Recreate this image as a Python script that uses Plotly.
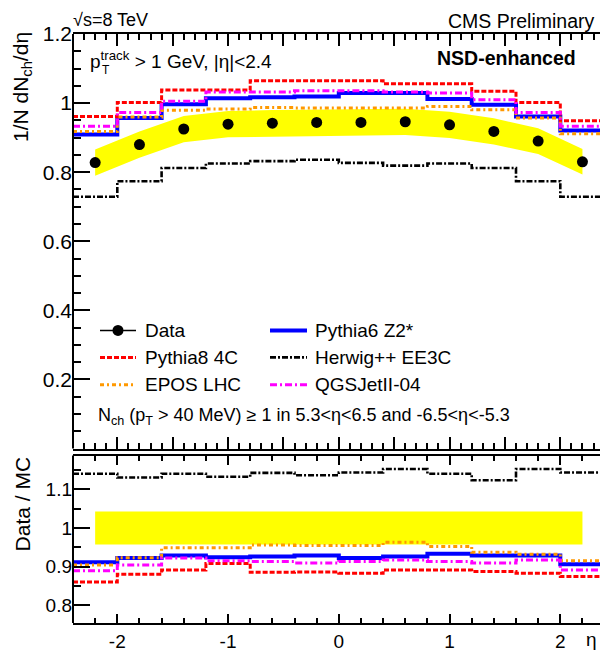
import plotly.graph_objects as go

# ---------------- data ----------------
bin_edges = [-2.4, -2.0, -1.6, -1.2, -0.8, -0.4, 0.0, 0.4, 0.8, 1.2, 1.6, 2.0, 2.4]
eta_centers = [-2.2, -1.8, -1.4, -1.0, -0.6, -0.2, 0.2, 0.6, 1.0, 1.4, 1.8, 2.2]

data_vals = [0.828, 0.880, 0.925, 0.939, 0.942, 0.944, 0.944, 0.946, 0.937, 0.918, 0.890, 0.830]
data_err = [0.038, 0.038, 0.038, 0.038, 0.038, 0.038, 0.038, 0.038, 0.038, 0.038, 0.037, 0.037]

pythia6_z2 = [0.909, 0.957, 0.997, 1.014, 1.017, 1.019, 1.029, 1.029, 1.012, 0.995, 0.961, 0.921]
herwig_ee3c = [0.729, 0.774, 0.812, 0.825, 0.832, 0.836, 0.827, 0.819, 0.825, 0.812, 0.774, 0.729]
pythia8_4c = [0.961, 1.002, 1.038, 1.038, 1.065, 1.065, 1.065, 1.056, 1.056, 1.034, 1.002, 0.949]
epos_lhc = [0.918, 0.960, 0.979, 0.983, 0.987, 0.986, 0.986, 0.986, 0.990, 0.981, 0.957, 0.911]
qgsjet_04 = [0.933, 0.973, 1.005, 1.032, 1.032, 1.036, 1.036, 1.032, 1.029, 1.010, 0.973, 0.933]

ratio_pythia6_z2 = [0.911, 0.922, 0.929, 0.924, 0.926, 0.929, 0.922, 0.926, 0.933, 0.929, 0.929, 0.906]
ratio_herwig_ee3c = [1.141, 1.131, 1.141, 1.133, 1.143, 1.137, 1.144, 1.153, 1.141, 1.124, 1.153, 1.144]
ratio_pythia8_4c = [0.860, 0.880, 0.891, 0.908, 0.885, 0.886, 0.883, 0.891, 0.891, 0.887, 0.883, 0.874]
ratio_epos_lhc = [0.904, 0.923, 0.949, 0.949, 0.956, 0.955, 0.955, 0.963, 0.952, 0.937, 0.932, 0.915]
ratio_qgsjet_04 = [0.889, 0.904, 0.922, 0.915, 0.913, 0.909, 0.913, 0.917, 0.913, 0.909, 0.917, 0.891]
ratio_err = [0.043, 0.043, 0.043, 0.043, 0.043, 0.043, 0.043, 0.043, 0.043, 0.043, 0.043, 0.043]

y_ticks_top = [0.2, 0.4, 0.6, 0.8, 1.0, 1.2]
y_ticklabels_top = ["0.2", "0.4", "0.6", "0.8", "1", "1.2"]
y_ticks_ratio = [0.8, 0.9, 1.0, 1.1]
y_ticklabels_ratio = ["0.8", "0.9", "1", "1.1"]
x_ticks = [-2, -1, 0, 1, 2]
x_ticklabels = ["-2", "-1", "0", "1", "2"]
x_ticks_top = [-2.0, -1.5, -1.0, -0.5, 0.0, 0.5, 1.0, 1.5, 2.0]

# ---------------- styling ----------------
FONT = "Liberation Sans, Arial, Helvetica, sans-serif"
W, H = 600, 652
ML, MR, MT, MB = 73, 0, 34, 27
PW, PH = W - ML - MR, H - MT - MB


def PX(px):
    return (px - ML) / PW


def PY(py):
    return (H - MB - py) / PH


models = [
    ("Pythia6 Z2*", pythia6_z2, ratio_pythia6_z2, "#0000ff", 4, "solid"),
    ("Herwig++ EE3C", herwig_ee3c, ratio_herwig_ee3c, "#000000", 2.6, "6px,2px,2px,2px"),
    ("Pythia8 4C", pythia8_4c, ratio_pythia8_4c, "#ff0000", 3, "5px,2px"),
    ("EPOS LHC", epos_lhc, ratio_epos_lhc, "#ff9900", 3, "4px,3px,2px,3px"),
    ("QGSJetII-04", qgsjet_04, ratio_qgsjet_04, "#ff00ff", 3, "7px,3px,2px,3px"),
]

fig = go.Figure()

# data uncertainty band (top)
fig.add_trace(go.Scatter(
    x=eta_centers + eta_centers[::-1],
    y=[v + e for v, e in zip(data_vals, data_err)] + [v - e for v, e in zip(data_vals, data_err)][::-1],
    fill="toself", fillcolor="#ffff00", line=dict(width=0), mode="lines",
    xaxis="x2", yaxis="y2", showlegend=False, hoverinfo="skip"))

# ratio band (bottom)
fig.add_trace(go.Scatter(
    x=eta_centers + eta_centers[::-1],
    y=[1 + e for e in ratio_err] + [1 - e for e in ratio_err][::-1],
    fill="toself", fillcolor="#ffff00", line=dict(width=0), mode="lines",
    xaxis="x", yaxis="y", showlegend=False, hoverinfo="skip"))

for name, vals, rvals, col, lw, dash in models:
    fig.add_trace(go.Scatter(
        x=bin_edges, y=vals + [vals[-1]], mode="lines", line_shape="hv",
        line=dict(color=col, width=lw, dash=dash), name=name,
        xaxis="x2", yaxis="y2", showlegend=False))
    fig.add_trace(go.Scatter(
        x=bin_edges, y=rvals + [rvals[-1]], mode="lines", line_shape="hv",
        line=dict(color=col, width=lw, dash=dash), name=name,
        xaxis="x", yaxis="y", showlegend=False))

fig.add_trace(go.Scatter(
    x=eta_centers, y=data_vals, mode="markers", name="Data",
    marker=dict(color="black", size=11), xaxis="x2", yaxis="y2", showlegend=False))

XR = [-2.4, -2.4 + PW / 110.75]
top_dom = [PY(450), 1.0]
bot_dom = [0.0, PY(457)]
YR_TOP = [0, 1.2]
YR_BOT = [0.7536, 1.188]

base = dict(showgrid=False, zeroline=False, ticks="inside", tickcolor="black",
            tickwidth=1.5, linecolor="black", linewidth=2)


def minor(dt, ln):
    return dict(dtick=dt, tick0=0, ticklen=ln, ticks="inside", tickwidth=1.5, tickcolor="black")


fig.update_layout(
    width=W, height=H, margin=dict(l=ML, r=MR, t=MT, b=MB),
    paper_bgcolor="white", plot_bgcolor="white", showlegend=False,
    font=dict(family=FONT, color="black"),
    xaxis=dict(domain=[0, 1], anchor="y", range=XR, tickmode="array", tickvals=x_ticks,
               ticktext=x_ticklabels, ticklen=9, showline=True, mirror="allticks",
               tickfont=dict(family=FONT, size=19, color="black"),
               minor=minor(0.2, 5), **base),
    xaxis2=dict(domain=[0, 1], anchor="y2", range=XR, tickmode="array", tickvals=x_ticks_top,
                showticklabels=False, ticklen=12, showline=True, mirror="allticks",
                minor=minor(0.1, 6), **base),
    yaxis=dict(domain=bot_dom, anchor="x", range=YR_BOT, tickmode="array",
               tickvals=y_ticks_ratio, ticktext=y_ticklabels_ratio, ticklen=17,
               showline=False, tickfont=dict(family=FONT, size=19, color="black"),
               minor=minor(0.05, 8), **base),
    yaxis2=dict(domain=top_dom, anchor="x2", range=YR_TOP, tickmode="array",
                tickvals=y_ticks_top, ticktext=y_ticklabels_top, ticklen=17,
                showline=False, tickfont=dict(family=FONT, size=21, color="black"),
                minor=minor(0.05, 8), **base),
    # right-hand tick copies (frame edge lies just outside the picture)
    yaxis3=dict(domain=top_dom, anchor="x2", overlaying="y2", side="right", range=YR_TOP,
                tickmode="array", tickvals=y_ticks_top, ticklen=17, showticklabels=False,
                showline=False, minor=minor(0.05, 8), **base),
    yaxis4=dict(domain=bot_dom, anchor="x", overlaying="y", side="right", range=YR_BOT,
                tickmode="array", tickvals=y_ticks_ratio, ticklen=17, showticklabels=False,
                showline=False, minor=minor(0.05, 8), **base),
)

shapes = []
# left frame lines
for d in (top_dom, bot_dom):
    shapes.append(dict(type="line", xref="paper", yref="paper", x0=0, x1=0, y0=d[0], y1=d[1],
                       line=dict(color="black", width=2)))

# legend samples
leg_rows = [331.5, 358.5, 386.0]
col1 = (100, 136, 143)
col2 = (270, 307, 313)
legend_entries = [
    ("Data", None, col1, leg_rows[0]),
    ("Pythia8 4C", models[2], col1, leg_rows[1]),
    ("EPOS LHC", models[3], col1, leg_rows[2]),
    ("Pythia6 Z2*", models[0], col2, leg_rows[0]),
    ("Herwig++ EE3C", models[1], col2, leg_rows[1]),
    ("QGSJetII-04", models[4], col2, leg_rows[2]),
]
annotations = []
for label, m, col, yy in legend_entries:
    if m is None:
        shapes.append(dict(type="line", xref="paper", yref="paper", x0=PX(col[0]), x1=PX(col[1]),
                           y0=PY(yy), y1=PY(yy), line=dict(color="black", width=1.5)))
        cx = (col[0] + col[1]) / 2
        shapes.append(dict(type="circle", xref="paper", yref="paper", x0=PX(cx - 5.5), x1=PX(cx + 5.5),
                           y0=PY(yy + 5.5), y1=PY(yy - 5.5), fillcolor="black", line=dict(width=0)))
    else:
        shapes.append(dict(type="line", xref="paper", yref="paper", x0=PX(col[0]), x1=PX(col[1]),
                           y0=PY(yy), y1=PY(yy), line=dict(color=m[3], width=m[4], dash=m[5])))
    annotations.append(dict(text=label, x=PX(col[2]), y=PY(yy), xref="paper", yref="paper",
                            xanchor="left", yanchor="middle", showarrow=False,
                            font=dict(family=FONT, size=19, color="black")))


def txt(text, px, py, size, xanchor="left", yanchor="middle", angle=0):
    annotations.append(dict(text=text, x=PX(px), y=PY(py), xref="paper", yref="paper",
                            xanchor=xanchor, yanchor=yanchor, showarrow=False, textangle=angle,
                            font=dict(family=FONT, size=size, color="black")))


txt("√s=8 TeV", 71, 20, 18)
txt("CMS Preliminary", 597, 21, 19.5, xanchor="right")
txt("p<sup>track</sup> &gt; 1 GeV, |η|&lt;2.4", 88, 60, 19)
txt("T", 100, 70, 12)
txt("<b>NSD-enhanced</b>", 578, 58, 19.5, xanchor="right")
txt("N<sub>ch</sub> (p<sub>T</sub> &gt; 40 MeV) ≥ 1 in 5.3&lt;η&lt;6.5 and -6.5&lt;η&lt;-5.3", 96, 418, 18)
txt("1/N dN<sub>ch</sub>/dη", 22, 30, 21, xanchor="center", yanchor="top", angle=-90)
txt("Data / MC", 22, 506, 21, xanchor="center", yanchor="middle", angle=-90)
txt("η", 599, 642, 19, xanchor="right")

fig.update_layout(shapes=shapes, annotations=annotations)

fig.write_html("out.html")
